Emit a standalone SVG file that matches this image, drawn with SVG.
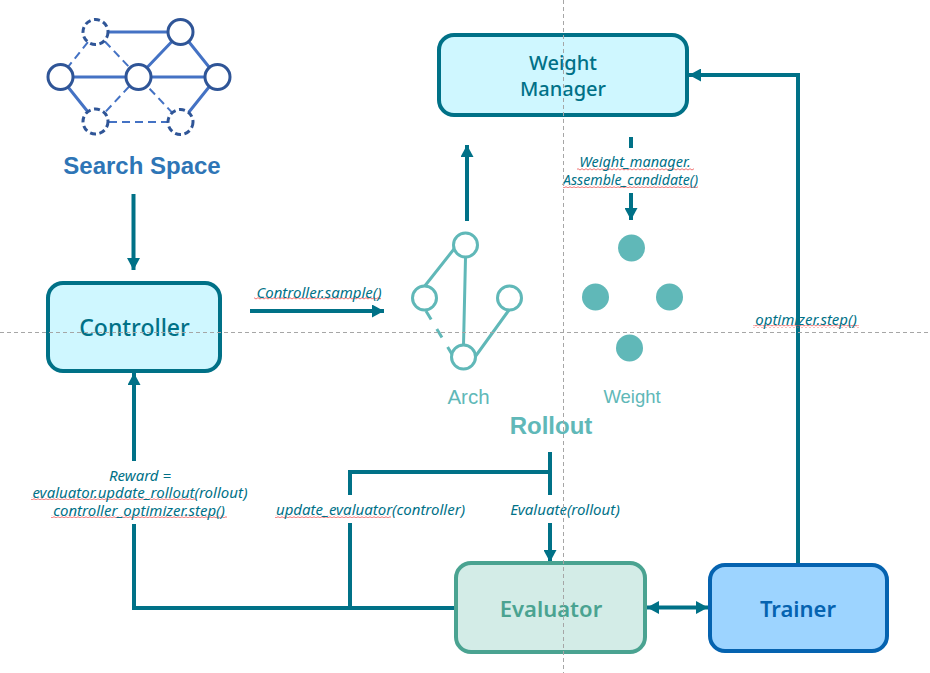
<svg xmlns="http://www.w3.org/2000/svg" width="930" height="673" viewBox="0 0 930 673">
<style>
text{font-family:"Noto Sans","Liberation Sans",sans-serif;text-anchor:middle}
.box{stroke-width:4}
.teal{fill:#cff7ff;stroke:#007187}
.tl{fill:#007187;font-weight:500}
.c{fill:none;stroke:#007187;stroke-width:4}
.lab{font-family:"Noto Sans","Liberation Sans",sans-serif;font-style:italic;font-size:15px;fill:#007187}
.s1{stroke:#4472c4;stroke-width:3;fill:none}
.s2{stroke:#4472c4;stroke-width:2;stroke-dasharray:8 5;fill:none}
.n1{fill:#fff;stroke:#2f5597;stroke-width:3}
.n2{fill:#fff;stroke:#2f5597;stroke-width:3;stroke-dasharray:6 3.5}
.a1{stroke:#60b8b8;stroke-width:3;fill:none}
.an{fill:#fff;stroke:#60b8b8;stroke-width:3}
.wn{fill:#60b8b8}
.rol{fill:#60b8b8;font-family:"Liberation Sans",sans-serif}
.guide{stroke:#a6a6a6;stroke-width:1;stroke-dasharray:4 3;fill:none}
.wavy{fill:url(#wave)}
</style>
<defs>
<marker id="arr" markerUnits="userSpaceOnUse" markerWidth="13" markerHeight="13" refX="12" refY="6.500" orient="auto-start-reverse"><path d="M0 0L12 6.500L0 13Z" fill="#007187"/></marker>
<pattern id="wave" width="4" height="3" patternUnits="userSpaceOnUse"><path d="M0 2L2 .7L4 2" fill="none" stroke="#ee5050" stroke-width=".8"/></pattern>
</defs>

<g id="connectors">
<path class="c" d="M133.500 194V270" marker-end="url(#arr)"/>
<path class="c" d="M134 461V373" marker-end="url(#arr)"/>
<path class="c" d="M456 608H134V524"/>
<path class="c" d="M350 608V523M350 495V472H550"/>
<path class="c" d="M550 452V495"/>
<path class="c" d="M550 523V562" marker-end="url(#arr)"/>
<path class="c" d="M798 565V75H689" marker-end="url(#arr)"/>
<path class="c" d="M647 607.500H708" marker-start="url(#arr)" marker-end="url(#arr)"/>
<path class="c" d="M250 311H384" marker-end="url(#arr)"/>
<path class="c" d="M467 221V145" marker-end="url(#arr)"/>
<path class="c" d="M631 137V148"/>
<path class="c" d="M631 193V220" marker-end="url(#arr)"/>
</g>

<g id="search-space">
<path class="s1" d="M96 32H181M181 32L217 77M181 32L138 77M60 77H217M60 77L96 122M217 77L181 122"/>
<path class="s2" d="M96 32L60 77M96 32L181 122M138 77L96 122M96 122H181"/>
<circle class="n2" cx="95.500" cy="32" r="12.500"/>
<circle class="n1" cx="180.500" cy="32" r="12.500"/>
<circle class="n1" cx="60.500" cy="77" r="12.500"/>
<circle class="n1" cx="138.500" cy="77" r="12.500"/>
<circle class="n1" cx="217.500" cy="77" r="12.500"/>
<circle class="n2" cx="95.500" cy="121.500" r="12.500"/>
<circle class="n2" cx="180.500" cy="122" r="12.500"/>
<text x="142" y="174" font-size="24" font-weight="700" fill="#2e75b6" style="font-family:'Liberation Sans',sans-serif">Search Space</text>
</g>

<g id="weight-manager">
<rect class="box teal" x="439" y="35" width="248" height="80" rx="15"/>
<text class="tl" x="563" y="70" font-size="20">Weight</text>
<text class="tl" x="563" y="96" font-size="20">Manager</text>
</g>

<g id="controller">
<rect class="box teal" x="48" y="283" width="172" height="88" rx="15"/>
<text class="tl" x="134.500" y="336" font-size="23">Controller</text>
</g>

<g id="evaluator">
<rect class="box" x="456" y="563" width="189" height="89" rx="15" fill="#d3ece7" stroke="#4aa391"/>
<text x="551" y="617" font-size="22" font-weight="600" fill="#4aa391">Evaluator</text>
</g>

<g id="trainer">
<rect class="box" x="710" y="565" width="177" height="86" rx="15" fill="#9dd4ff" stroke="#0563b0"/>
<text x="798" y="617" font-size="22" font-weight="600" fill="#0563b0">Trainer</text>
</g>

<g id="arch">
<path class="a1" d="M454 249L424 287M465.500 258L463.500 345M509 310L475 357"/>
<path class="a1" d="M426 311L453 356" stroke-dasharray="10 11"/>
<circle class="an" cx="465.500" cy="245" r="12"/>
<circle class="an" cx="424.500" cy="298" r="12"/>
<circle class="an" cx="509.500" cy="298" r="12"/>
<circle class="an" cx="463.500" cy="357" r="12"/>
<text class="rol" x="468.500" y="404" font-size="20.500">Arch</text>
</g>

<g id="weight">
<circle class="wn" cx="631.500" cy="248" r="13.500"/>
<circle class="wn" cx="595.500" cy="297" r="13.500"/>
<circle class="wn" cx="669.500" cy="297" r="13.500"/>
<circle class="wn" cx="629.500" cy="348" r="13.500"/>
<text class="rol" x="632" y="403" font-size="18.500">Weight</text>
</g>

<g id="rollout">
<text class="rol" x="551" y="434" font-size="24" font-weight="700">Rollout</text>
</g>

<g id="labels">
<rect class="wavy" x="254" y="297" width="127" height="3"/>
<text class="lab" x="319" y="298">Controller.sample()</text>
<rect class="wavy" x="577" y="168" width="117" height="3"/>
<rect class="wavy" x="563" y="185" width="135" height="3"/>
<text class="lab" x="635" y="167" style="font-size:14.500px">Weight_manager.</text>
<text class="lab" x="630.500" y="185" style="font-size:14.200px">Assemble_candidate()</text>
<rect class="wavy" x="753" y="325" width="106" height="3"/>
<text class="lab" x="806" y="325">optimizer.step()</text>
<text class="lab" x="140" y="481">Reward =</text>
<rect class="wavy" x="31" y="497" width="165" height="3"/>
<text class="lab" x="140" y="498">evaluator.update_rollout(rollout)</text>
<rect class="wavy" x="51" y="515" width="176" height="3"/>
<text class="lab" x="139" y="516">controller_optimizer.step()</text>
<rect class="wavy" x="275" y="515" width="116" height="3"/>
<text class="lab" x="370.500" y="515">update_evaluator(controller)</text>
<text class="lab" x="565" y="515">Evaluate(rollout)</text>
</g>

<path class="guide" d="M0 332.500H928M563.500 0V673"/>
</svg>
